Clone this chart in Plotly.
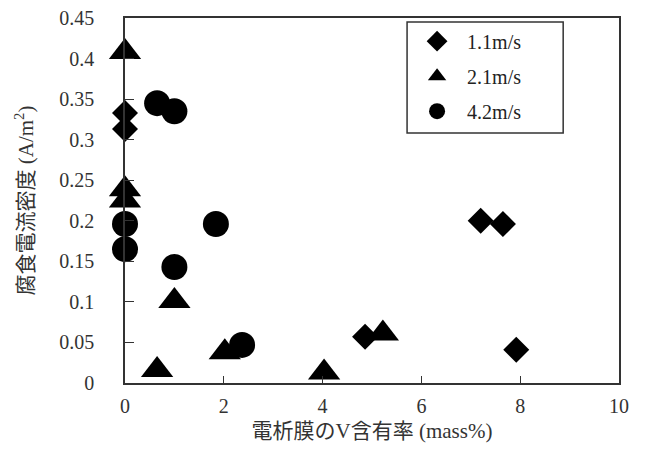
import plotly.graph_objects as go

# Data
v11_x = [0.0, 0.0, 7.2, 7.65, 7.92, 4.86]
v11_y = [0.333, 0.313, 0.200, 0.196, 0.041, 0.057]

v21_x = [0.0, 0.0, 0.0, 1.0, 0.65, 2.02, 4.03, 5.22]
v21_y = [0.408, 0.239, 0.225, 0.101, 0.016, 0.038, 0.013, 0.061]

v42_x = [0.0, 0.0, 0.65, 1.0, 1.84, 1.0, 2.37]
v42_y = [0.196, 0.165, 0.345, 0.335, 0.196, 0.143, 0.047]

names = ["1.1m/s", "2.1m/s", "4.2m/s"]
x_ticks = [0, 2, 4, 6, 8, 10]
y_ticks = [0, 0.05, 0.1, 0.15, 0.2, 0.25, 0.3, 0.35, 0.4, 0.45]
y_tick_text = ["0", "0.05", "0.1", "0.15", "0.2", "0.25", "0.3", "0.35", "0.4", "0.45"]

serif = "Liberation Serif, Times New Roman, serif"
cjk = "Liberation Serif, Noto Sans CJK JP, serif"

fig = go.Figure()
fig.add_trace(go.Scatter(x=v11_x, y=v11_y, mode="markers", name=names[0], legendgroup="a",
                         marker=dict(symbol="diamond", size=20, color="black"), cliponaxis=False))
fig.add_trace(go.Scatter(x=v21_x, y=v21_y, mode="markers", name=names[1], legendgroup="b",
                         marker=dict(symbol="triangle-up", size=28, color="black"), cliponaxis=False))
fig.add_trace(go.Scatter(x=v42_x, y=v42_y, mode="markers", name=names[2], legendgroup="c",
                         marker=dict(symbol="circle", size=26, color="black"), cliponaxis=False))

# legend frame (wider than plotly's auto-sized legend box)
fig.add_shape(type="rect", xref="paper", yref="paper",
              x0=0.571, x1=0.887, y0=0.685, y1=0.989,
              line=dict(color="#333", width=1.5), fillcolor="rgba(0,0,0,0)")

fig.update_layout(
    width=641, height=442,
    margin=dict(l=117, r=30, t=10, b=67),
    plot_bgcolor="white", paper_bgcolor="white",
    font=dict(family=serif, size=20, color="#222"),
    legend=dict(x=0.571, y=0.99, xanchor="left", yanchor="top",
                borderwidth=0, bgcolor="rgba(0,0,0,0)",
                font=dict(family=serif, size=20, color="#222"),
                tracegroupgap=6, itemwidth=50),
    xaxis=dict(range=[0, 10], tickvals=x_ticks, ticks="inside", ticklen=7,
               tickcolor="#333", showline=True, linecolor="#333", linewidth=1.5,
               mirror=True, showgrid=False, zeroline=False, automargin=False,
               ticklabelstandoff=4, ticklabeloverflow="allow",
               tickfont=dict(family=serif, size=20, color="#333"),
               title=dict(text="電析膜のV含有率 (mass%)", standoff=8,
                          font=dict(family=cjk, size=21, color="#333"))),
    yaxis=dict(range=[0, 0.45], tickvals=y_ticks, ticktext=y_tick_text, ticks="inside",
               ticklen=9, tickcolor="#333", showline=True, linecolor="#333", linewidth=1.5,
               mirror=True, showgrid=False, zeroline=False, automargin=False,
               ticklabelstandoff=25, ticklabeloverflow="allow",
               tickfont=dict(family=serif, size=20, color="#333"),
               title=dict(text="腐食電流密度 (A/m<sup>2</sup>)", standoff=20,
                          font=dict(family=cjk, size=21, color="#333"))),
)

fig.write_html("out.html")
